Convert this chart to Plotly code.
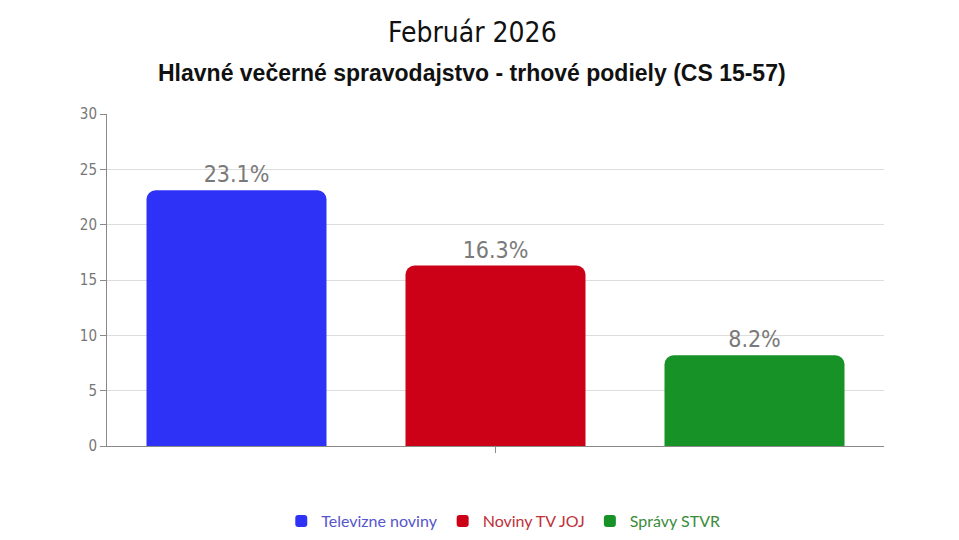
import plotly.graph_objects as go

series = ["Televízne noviny", "Noviny TV JOJ", "Správy STVR"]
legend_labels = ["Televizne noviny", "Noviny TV JOJ", "Správy STVR"]
values = [23.1, 16.3, 8.2]
colors = ["#2e32f7", "#cc0017", "#169227"]
text_colors = ["#5555cc", "#c0303a", "#3a8c3a"]
category = [""]

fig = go.Figure()
for name, lab, v, c, tc in zip(series, legend_labels, values, colors, text_colors):
    fig.add_trace(go.Bar(
        x=category, y=[v], name=f"<span style='color:{tc}'>{lab}</span>",
        marker=dict(color=c, cornerradius=9, line=dict(width=0)),
        text=[f"{v}%"], textposition="outside",
        textfont=dict(family="DejaVu Sans Condensed, Roboto", size=23, color="#7a7a7a"),
        cliponaxis=False,
    ))

fig.update_layout(
    width=959, height=540,
    paper_bgcolor="white", plot_bgcolor="white",
    margin=dict(l=107, r=75, t=114, b=94, autoexpand=False),
    barmode="group", bargap=0.0, bargroupgap=0.305,
    showlegend=True,
    legend=dict(orientation="h", x=0.51, xanchor="center", yref="container", y=0.035, yanchor="middle",
                font=dict(family="Lato, Noto Sans", size=16), itemwidth=30),
    annotations=[
        dict(text="Február 2026", xref="paper", yref="paper", x=0.47, y=1.245,
             xanchor="center", yanchor="middle", showarrow=False,
             font=dict(family="DejaVu Sans Condensed, Roboto", size=28, color="#111111")),
        dict(text="<b>Hlavné večerné spravodajstvo - trhové podiely (CS 15-57)</b>", xref="paper", yref="paper",
             x=0.47, y=1.124, xanchor="center", yanchor="middle", showarrow=False,
             font=dict(family="Liberation Sans, Arial", size=23, color="#111111")),
    ],
)
fig.update_yaxes(range=[0, 30], dtick=5, showline=True, linecolor="#8a8a8a", linewidth=1,
                 ticks="outside", ticklen=6, tickcolor="#8a8a8a",
                 gridcolor="#dddddd", gridwidth=1, zeroline=False,
                 tickfont=dict(family="DejaVu Sans Condensed, Roboto", size=15, color="#777777"))
fig.update_xaxes(showline=True, linecolor="#8a8a8a", linewidth=1, ticks="outside", ticklen=6,
                 tickcolor="#8a8a8a", showgrid=False, showticklabels=False)

fig.write_html("out.html")
